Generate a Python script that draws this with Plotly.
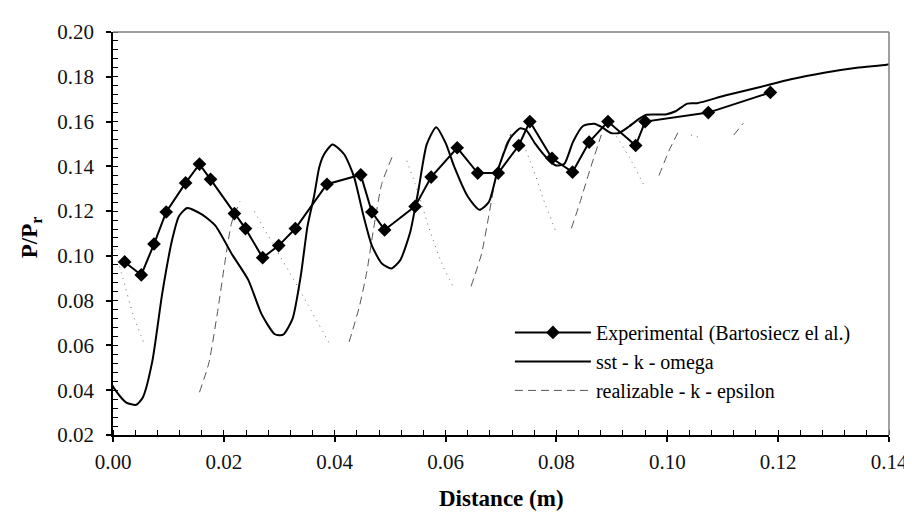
import plotly.graph_objects as go

# ---------------- data ----------------
exp_x = [0.0021, 0.0051, 0.0074, 0.0096, 0.0131, 0.0156, 0.0176, 0.0219, 0.0239, 0.0270,
         0.0299, 0.0329, 0.0386, 0.0447, 0.0467, 0.0490, 0.0545, 0.0574, 0.0621, 0.0658,
         0.0695, 0.0732, 0.0752, 0.0792, 0.0829, 0.0859, 0.0893, 0.0943, 0.0960, 0.1074, 0.1186]
exp_y = [0.0973, 0.0915, 0.1053, 0.1196, 0.1326, 0.1410, 0.1342, 0.1189, 0.1122, 0.0992,
         0.1046, 0.1122, 0.1320, 0.1362, 0.1196, 0.1116, 0.1221, 0.1352, 0.1483, 0.1370,
         0.1370, 0.1493, 0.1600, 0.1436, 0.1374, 0.1508, 0.1600, 0.1493, 0.1600, 0.1640, 0.1730]

sst_x = [-0.0009, 0.0003, 0.0024, 0.0042, 0.0054, 0.0071, 0.0089, 0.0107, 0.0119, 0.0134,
         0.0161, 0.0185, 0.0214, 0.0244, 0.0268, 0.0292, 0.0307, 0.0324, 0.0339, 0.0351,
         0.0363, 0.0372, 0.0380, 0.0396, 0.0417, 0.0435, 0.0452, 0.0467, 0.0485, 0.0502,
         0.0518, 0.0536, 0.0551, 0.0566, 0.0583, 0.0600, 0.0616, 0.0640, 0.0661, 0.0678,
         0.0694, 0.0717, 0.0735, 0.0746, 0.0762, 0.0783, 0.0799, 0.0814, 0.0830, 0.0848,
         0.0868, 0.0882, 0.0898, 0.0913, 0.0931, 0.0949, 0.0961, 0.0997, 0.1015, 0.1036,
         0.1054, 0.1104, 0.1164, 0.1223, 0.1283, 0.1342, 0.1396, 0.1414]
sst_y = [0.0457, 0.0405, 0.0345, 0.0335, 0.0369, 0.0530, 0.0835, 0.1075, 0.1177, 0.1214,
         0.1184, 0.1134, 0.1010, 0.0893, 0.0740, 0.0650, 0.0648, 0.0720, 0.0915, 0.1134,
         0.1270, 0.1395, 0.1450, 0.1498, 0.1454, 0.1352, 0.1178, 0.1046, 0.0966, 0.0944,
         0.0980, 0.1104, 0.1294, 0.1498, 0.1575, 0.1505, 0.1396, 0.1265, 0.1206, 0.1240,
         0.1381, 0.1527, 0.1570, 0.1560, 0.1500, 0.1436, 0.1404, 0.1410, 0.1510, 0.1580,
         0.1590, 0.1575, 0.1549, 0.1549, 0.1578, 0.1612, 0.1630, 0.1632, 0.1646, 0.1680,
         0.1682, 0.1716, 0.1752, 0.1789, 0.1818, 0.1840, 0.1854, 0.1862]

# realizable k-epsilon: rising parts (dashed) and falling parts (dotted), None = gap
rke_rise_x = [0.0156, 0.0173, 0.0188, 0.0202, 0.0214, 0.0229, None,
              0.0426, 0.0444, 0.0458, 0.0470, 0.0485, 0.0504, None,
              0.0646, 0.0665, 0.0678, 0.0690, 0.0708, 0.0718, None,
              0.0827, 0.0842, 0.0860, 0.0881, None,
              0.0985, 0.1003, 0.1019, None,
              0.1120, 0.1137]
rke_rise_y = [0.0391, 0.0522, 0.0740, 0.0973, 0.1148, 0.1243, None,
              0.0616, 0.0769, 0.0930, 0.1119, 0.1323, 0.1444, None,
              0.0864, 0.1010, 0.1180, 0.1340, 0.1490, 0.1545, None,
              0.1123, 0.1235, 0.1381, 0.1541, None,
              0.1359, 0.1469, 0.1550, None,
              0.1540, 0.1592]
rke_fall_x = [0.0003, 0.0018, 0.0036, 0.0057, None,
              0.0255, 0.0280, 0.0316, 0.0351, 0.0393, None,
              0.0530, 0.0545, 0.0569, 0.0592, 0.0614, None,
              0.0741, 0.0759, 0.0777, 0.0798, None,
              0.0908, 0.0932, 0.0958, None,
              0.1043, 0.1061]
rke_fall_y = [0.1030, 0.0900, 0.0740, 0.0602, None,
              0.1199, 0.1090, 0.0937, 0.0784, 0.0598, None,
              0.1425, 0.1323, 0.1134, 0.0973, 0.0861, None,
              0.1498, 0.1381, 0.1250, 0.1114, None,
              0.1534, 0.1439, 0.1315, None,
              0.1540, 0.1527]

x_ticks = [0.00, 0.02, 0.04, 0.06, 0.08, 0.10, 0.12, 0.14]
y_ticks = [0.02, 0.04, 0.06, 0.08, 0.10, 0.12, 0.14, 0.16, 0.18, 0.20]

FONT = "Liberation Serif"

fig = go.Figure()

fig.add_trace(go.Scatter(
    x=rke_fall_x, y=rke_fall_y, mode="lines", showlegend=False,
    line=dict(color="#666666", width=1, dash="1px,5px", shape="spline", smoothing=0.6),
    connectgaps=False, hoverinfo="skip"))
fig.add_trace(go.Scatter(
    x=rke_rise_x, y=rke_rise_y, mode="lines", name="realizable - k - epsilon",
    line=dict(color="#555555", width=1, dash="8px,5px", shape="spline", smoothing=0.6),
    connectgaps=False, legendrank=3))
fig.add_trace(go.Scatter(
    x=sst_x, y=sst_y, mode="lines", name="sst - k - omega",
    line=dict(color="black", width=2, shape="spline", smoothing=0.6), legendrank=2))
fig.add_trace(go.Scatter(
    x=exp_x, y=exp_y, mode="lines+markers", name="Experimental (Bartosiecz el al.)",
    line=dict(color="black", width=2),
    marker=dict(symbol="diamond", size=10.5, color="black"), legendrank=1))

axis_common = dict(
    showgrid=False, zeroline=False, showline=True, linecolor="black", linewidth=1.5,
    ticks="outside", ticklen=5, tickwidth=1.5, tickcolor="black",
    tickformat=".2f", tickfont=dict(family=FONT, size=21, color="#111111"),
    minor=dict(ticks="inside", ticklen=5, tickwidth=1, tickcolor="black", dtick=0.004),
)

fig.update_xaxes(range=[0, 0.14], tickvals=x_ticks, ticklabelstandoff=2, **axis_common)
fig.update_yaxes(range=[0.02, 0.20], tickvals=y_ticks, ticklabelstandoff=8, **axis_common)

# gray top and right frame lines
fig.add_shape(type="line", xref="paper", yref="paper", x0=0, x1=1, y0=1, y1=1,
              line=dict(color="#808080", width=1.5))
fig.add_shape(type="line", xref="paper", yref="paper", x0=1, x1=1, y0=0, y1=1,
              line=dict(color="#808080", width=1.5))

# axis titles
fig.add_annotation(text="<b>Distance (m)</b>", xref="paper", yref="paper",
                   x=0.5, y=-0.158, showarrow=False, yanchor="middle",
                   font=dict(family=FONT, size=23, color="black"))
fig.add_annotation(text="<b>P/P<sub>r</sub></b>", xref="paper", yref="paper",
                   x=-0.106, y=0.49, showarrow=False, textangle=-90,
                   xanchor="center", yanchor="middle",
                   font=dict(family=FONT, size=23, color="black"))

fig.update_layout(
    width=912, height=512,
    margin=dict(l=105, r=23, t=15, b=85),
    paper_bgcolor="white", plot_bgcolor="white",
    font=dict(family=FONT, color="black"),
    legend=dict(x=0.5115, y=0.303, xanchor="left", yanchor="top",
                bgcolor="rgba(0,0,0,0)", borderwidth=0,
                font=dict(family=FONT, size=20, color="black"),
                tracegroupgap=0, itemwidth=76),
)

fig.write_html("out.html")
